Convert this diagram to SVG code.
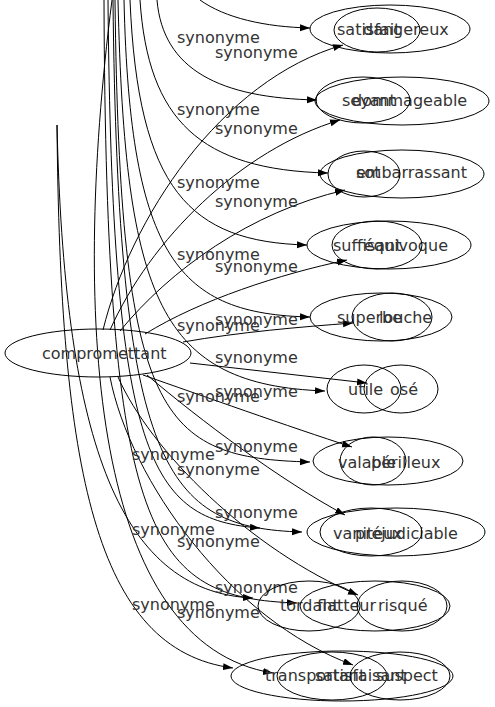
<svg xmlns="http://www.w3.org/2000/svg" width="495" height="707" viewBox="0 0 495 707">
<style>
.n ellipse{fill:none;stroke:#000;stroke-width:1}
text{font-family:"DejaVu Sans","Liberation Sans",sans-serif;font-size:16px;fill:#333}
.e path{fill:none;stroke:#000;stroke-width:1;marker-end:url(#ah)}
.e path.nm{marker-end:none}
</style>
<defs>
<marker id="ah" markerUnits="userSpaceOnUse" markerWidth="11" markerHeight="8" refX="10" refY="3.5" orient="auto">
<path d="M0,0 L10,3.5 L0,7 z" fill="#000"/>
</marker>
</defs>
<rect width="495" height="707" fill="#fff"/>
<g id="edges" class="e">
<path d="M200,0 C225,18 265,27 310,28"/>
<path d="M157,0 C163,70 220,98 317,100"/>
<path d="M140,0 C148,120 200,170 328,173"/>
<path d="M130,0 C138,190 190,242 307,245"/>
<path d="M124,0 C130,260 180,314 310,317"/>
<path d="M118,0 C125,300 160,385 325,391"/>
<path d="M115,0 C120,420 160,458 310,462"/>
<path d="M113,0 C118,470 165,528 302,532"/>
<path d="M108,0 C112,460 150,520 260,528"/>
<path d="M104,0 C106,540 150,598 297,603"/>
<path d="M57,125 C64,430 115,592 253,598"/>
<path d="M112,0 C70,330 95,645 273,673"/>
<path d="M57,125 C60,470 95,650 233,668"/>
<path d="M103,330 C130,220 220,80 343,45"/>
<path d="M110,330 C150,240 240,150 340,120"/>
<path d="M120,331 C170,270 250,212 345,190"/>
<path d="M145,334 C200,300 280,274 347,260"/>
<path d="M183,342 C240,332 300,327 353,323"/>
<path d="M190,363 L367,383"/>
<path d="M143,375 C200,395 290,427 352,447"/>
<path d="M147,375 C200,420 280,480 345,515"/>
<path d="M118,377 C150,450 250,550 358,595"/>
<path d="M110,377 C130,480 230,620 353,665"/>
</g>
<g id="labels">
<text x="177" y="43">synonyme</text>
<text x="215" y="58">synonyme</text>
<text x="177" y="115">synonyme</text>
<text x="215" y="134">synonyme</text>
<text x="177" y="188">synonyme</text>
<text x="215" y="207">synonyme</text>
<text x="177" y="260">synonyme</text>
<text x="215" y="272">synonyme</text>
<text x="215" y="325">synonyme</text>
<text x="177" y="331">synonyme</text>
<text x="215" y="363">synonyme</text>
<text x="215" y="397">synonyme</text>
<text x="177" y="402">synonyme</text>
<text x="215" y="452">synonyme</text>
<text x="132" y="460">synonyme</text>
<text x="177" y="475">synonyme</text>
<text x="215" y="518">synonyme</text>
<text x="132" y="535">synonyme</text>
<text x="177" y="547">synonyme</text>
<text x="215" y="593">synonyme</text>
<text x="132" y="610">synonyme</text>
<text x="177" y="618">synonyme</text>
</g>
<g id="compromettant" class="n"><ellipse cx="98" cy="353" rx="93" ry="24"/><text x="42" y="359">compromettant</text></g>
<g id="dangereux" class="n"><ellipse cx="390" cy="29" rx="80" ry="24"/><text x="363" y="35">dangereux</text></g>
<g id="satisfait" class="n"><ellipse cx="377" cy="30" rx="43" ry="22"/><text x="337" y="35">satisfait</text></g>
<g id="dommageable" class="n"><ellipse cx="402" cy="101" rx="87" ry="24"/><text x="352" y="106">dommageable</text></g>
<g id="seyant" class="n"><ellipse cx="363" cy="100" rx="47" ry="23"/><text x="342" y="106">seyant</text></g>
<g id="embarrassant" class="n"><ellipse cx="402" cy="174" rx="82" ry="24"/><text x="356" y="178">embarrassant</text></g>
<g id="sot" class="n"><ellipse cx="364" cy="174" rx="36" ry="23"/><text x="356" y="178">sot</text></g>
<g id="equivoque" class="n"><ellipse cx="389" cy="245" rx="82" ry="24"/><text x="364" y="251">équivoque</text></g>
<g id="suffisant" class="n"><ellipse cx="377" cy="245" rx="45" ry="24"/><text x="333" y="251">suffisant</text></g>
<g id="superbe" class="n"><ellipse cx="381" cy="317" rx="71" ry="24"/><text x="337" y="323">superbe</text></g>
<g id="louche" class="n"><ellipse cx="392" cy="317" rx="40" ry="24"/><text x="379" y="323">louche</text></g>
<g id="utile" class="n"><ellipse cx="364" cy="389" rx="37" ry="24"/><text x="348" y="395">utile</text></g>
<g id="ose" class="n"><ellipse cx="401" cy="389" rx="37" ry="24"/><text x="390" y="395">osé</text></g>
<g id="perilleux" class="n"><ellipse cx="388" cy="461" rx="75" ry="24"/><text x="371" y="468">périlleux</text></g>
<g id="valable" class="n"><ellipse cx="373" cy="461" rx="33" ry="24"/><text x="338" y="468">valable</text></g>
<g id="prejudiciable" class="n"><ellipse cx="396" cy="532" rx="89" ry="24"/><text x="355" y="539">préjudiciable</text></g>
<g id="vaniteux" class="n"><ellipse cx="371" cy="532" rx="51" ry="24"/><text x="333" y="539">vaniteux</text></g>
<g id="tordant" class="n"><ellipse cx="309" cy="606" rx="51" ry="25"/><text x="280" y="611">tordant</text></g>
<g id="flatteur" class="n"><ellipse cx="375" cy="606" rx="75" ry="25"/><text x="317" y="611">flatteur</text></g>
<g id="risque" class="n"><ellipse cx="402" cy="606" rx="45" ry="25"/><text x="378" y="611">risqué</text></g>
<g id="transportant" class="n"><ellipse cx="342" cy="676" rx="111" ry="25"/><text x="265" y="681">transportant</text></g>
<g id="satisfaisant" class="n"><ellipse cx="332" cy="676" rx="55" ry="24"/><text x="315" y="681">satisfaisant</text></g>
<g id="suspect" class="n"><ellipse cx="400" cy="676" rx="50" ry="24"/><text x="376" y="681">suspect</text></g>
</svg>
